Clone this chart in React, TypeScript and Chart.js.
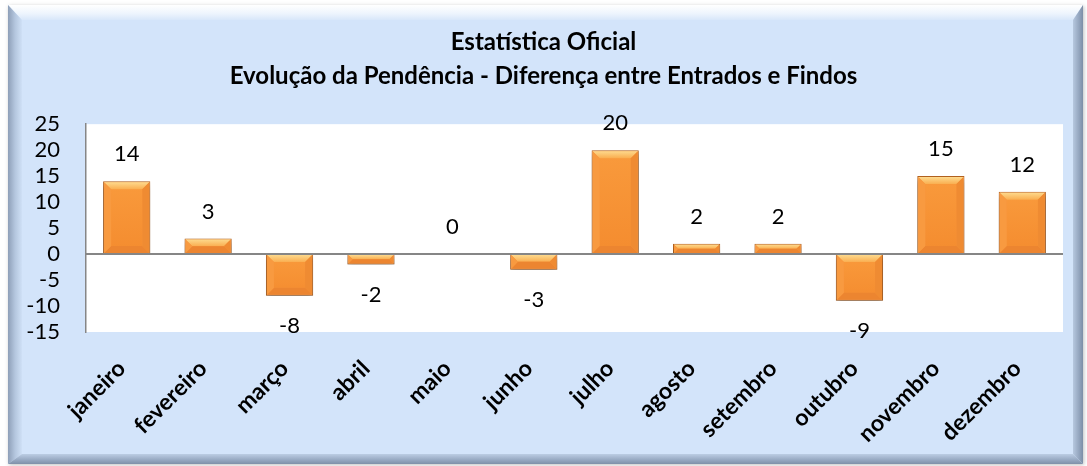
import React, { useEffect, useRef } from "react";
import { Chart, registerables } from "chart.js";

Chart.register(...registerables);

const titleLines = ["Estatística Oficial", "Evolução da Pendência - Diferença entre Entrados e Findos"];
const months = ["janeiro", "fevereiro", "março", "abril", "maio", "junho", "julho", "agosto", "setembro", "outubro", "novembro", "dezembro"];
const differences = [14, 3, -8, -2, 0, -3, 20, 2, 2, -9, 15, 12];
const yMin = -15;
const yMax = 25;
const yStep = 5;

const FONT = "Lato, 'Noto Sans', sans-serif";

const framePlugin = {
  id: "frame",
  beforeDraw(chart: any) {
    const ctx = chart.ctx;
    const W = chart.width;
    const H = chart.height;
    ctx.save();
    ctx.fillStyle = "#ffffff";
    ctx.fillRect(0, 0, W, H);
    const x0 = 8, y0 = 5, x1 = W - 4, y1 = H - 2;
    const bt = 15, bl = 14, br = 10, bb = 10;
    ctx.save();
    ctx.shadowColor = "rgba(0,0,0,0.25)";
    ctx.shadowBlur = 4;
    ctx.shadowOffsetX = 1;
    ctx.shadowOffsetY = 1;
    ctx.fillStyle = "#d3e4fa";
    ctx.fillRect(x0, y0, x1 - x0, y1 - y0);
    ctx.restore();
    ctx.fillStyle = "#d3e4fa";
    ctx.fillRect(x0, y0, x1 - x0, y1 - y0);
    let g = ctx.createLinearGradient(0, y0, 0, y0 + bt);
    g.addColorStop(0, "#ffffff");
    g.addColorStop(0.55, "#eef5fd");
    g.addColorStop(1, "#d8e7fa");
    ctx.fillStyle = g;
    ctx.beginPath();
    ctx.moveTo(x0, y0); ctx.lineTo(x1, y0); ctx.lineTo(x1 - br, y0 + bt); ctx.lineTo(x0 + bl, y0 + bt); ctx.closePath();
    ctx.fill();
    g = ctx.createLinearGradient(x0, 0, x0 + bl, 0);
    g.addColorStop(0, "#8e9fb8");
    g.addColorStop(0.5, "#b4c6de");
    g.addColorStop(1, "#cfe0f6");
    ctx.fillStyle = g;
    ctx.beginPath();
    ctx.moveTo(x0, y0); ctx.lineTo(x0 + bl, y0 + bt); ctx.lineTo(x0 + bl, y1 - bb); ctx.lineTo(x0, y1); ctx.closePath();
    ctx.fill();
    g = ctx.createLinearGradient(x1 - br, 0, x1, 0);
    g.addColorStop(0, "#b7c8df");
    g.addColorStop(0.6, "#94a6bf");
    g.addColorStop(1, "#7d8ea6");
    ctx.fillStyle = g;
    ctx.beginPath();
    ctx.moveTo(x1, y0); ctx.lineTo(x1, y1); ctx.lineTo(x1 - br, y1 - bb); ctx.lineTo(x1 - br, y0 + bt); ctx.closePath();
    ctx.fill();
    g = ctx.createLinearGradient(0, y1 - bb, 0, y1);
    g.addColorStop(0, "#bccde4");
    g.addColorStop(0.6, "#96a8c1");
    g.addColorStop(1, "#7f90a8");
    ctx.fillStyle = g;
    ctx.beginPath();
    ctx.moveTo(x0, y1); ctx.lineTo(x0 + bl, y1 - bb); ctx.lineTo(x1 - br, y1 - bb); ctx.lineTo(x1, y1); ctx.closePath();
    ctx.fill();
    const a = chart.chartArea;
    ctx.fillStyle = "#ffffff";
    ctx.fillRect(a.left, a.top, a.right - a.left, a.bottom - a.top);
    ctx.restore();
  },
};

const barStylePlugin = {
  id: "barStyle",
  beforeDatasetsDraw(chart: any) {
    const ctx = chart.ctx;
    ctx.save();
    ctx.shadowColor = "rgba(0,0,0,0.35)";
    ctx.shadowBlur = 6;
    ctx.shadowOffsetX = 0;
    ctx.shadowOffsetY = 4;
  },
  afterDatasetsDraw(chart: any) {
    const ctx = chart.ctx;
    ctx.restore();
    ctx.save();
    const meta = chart.getDatasetMeta(0);
    const data = chart.data.datasets[0].data as number[];
    meta.data.forEach((el: any) => {
      const p = el.getProps(["x", "y", "base", "width"], true);
      const left = p.x - p.width / 2 + 1;
      const right = p.x + p.width / 2 - 1;
      const top = Math.min(p.y, p.base) + 1;
      const bottom = Math.max(p.y, p.base) - 1;
      const h = bottom - top;
      if (h <= 1) return;
      const b = Math.min(7, h / 2);
      const body = ctx.createLinearGradient(0, top, 0, bottom);
      body.addColorStop(0, "#f99a3c");
      body.addColorStop(1, "#f48c2f");
      ctx.fillStyle = body;
      ctx.fillRect(left + b, top + b, right - left - 2 * b, bottom - top - 2 * b);
      const g = ctx.createLinearGradient(0, top, 0, top + b);
      g.addColorStop(0, "#fdd98c");
      g.addColorStop(1, "#faae50");
      ctx.fillStyle = g;
      ctx.beginPath();
      ctx.moveTo(left, top); ctx.lineTo(right, top); ctx.lineTo(right - b, top + b); ctx.lineTo(left + b, top + b); ctx.closePath();
      ctx.fill();
      ctx.fillStyle = "#ec8530";
      ctx.beginPath();
      ctx.moveTo(left, bottom); ctx.lineTo(right, bottom); ctx.lineTo(right - b, bottom - b); ctx.lineTo(left + b, bottom - b); ctx.closePath();
      ctx.fill();
      ctx.fillStyle = "#f89a40";
      ctx.beginPath();
      ctx.moveTo(left, top); ctx.lineTo(left + b, top + b); ctx.lineTo(left + b, bottom - b); ctx.lineTo(left, bottom); ctx.closePath();
      ctx.fill();
      ctx.fillStyle = "#ef8b32";
      ctx.beginPath();
      ctx.moveTo(right, top); ctx.lineTo(right - b, top + b); ctx.lineTo(right - b, bottom - b); ctx.lineTo(right, bottom); ctx.closePath();
      ctx.fill();
    });
    const ys = chart.scales.y;
    const y0 = ys.getPixelForValue(0);
    ctx.strokeStyle = "#868686";
    ctx.lineWidth = 2;
    ctx.beginPath();
    ctx.moveTo(chart.chartArea.left, y0);
    ctx.lineTo(chart.chartArea.right, y0);
    ctx.stroke();
    ctx.fillStyle = "#000000";
    ctx.font = `22px ${FONT}`;
    ctx.textAlign = "center";
    ctx.textBaseline = "middle";
    meta.data.forEach((el: any, i: number) => {
      const v = data[i];
      const p = el.getProps(["x", "y"], true);
      const ty = v >= 0 ? p.y - 27 : p.y + 30;
      ctx.fillText(String(v), p.x, ty);
    });
    ctx.restore();
  },
};

export default function App() {
  const ref = useRef<HTMLCanvasElement | null>(null);
  useEffect(() => {
    if (!ref.current) return;
    const chart = new Chart(ref.current, {
      type: "bar",
      data: {
        labels: months,
        datasets: [
          {
            data: differences,
            backgroundColor: "#f7933a",
            borderColor: "#b5631f",
            borderWidth: 1,
            barPercentage: 0.58,
            categoryPercentage: 1,
          },
        ],
      },
      options: {
        responsive: false,
        devicePixelRatio: 1,
        animation: false,
        layout: { padding: { top: 10, right: 24, left: 24, bottom: 0 } },
        plugins: {
          legend: { display: false },
          tooltip: { enabled: false },
          title: {
            display: true,
            text: titleLines,
            color: "#000000",
            font: { family: FONT, size: 24, weight: "bold", lineHeight: 1.42 },
            padding: { top: 15, bottom: 31 },
          },
        },
        scales: {
          x: {
            grid: { display: false, drawTicks: false },
            border: { display: false },
            ticks: {
              color: "#000000",
              font: { family: FONT, size: 23, weight: "bold" },
              maxRotation: 45,
              minRotation: 45,
              autoSkip: false,
              padding: 23,
              labelOffset: -5,
            },
            afterFit(scale: any) {
              scale.height = 134;
            },
          },
          y: {
            min: yMin,
            max: yMax,
            grid: { display: false, drawTicks: false },
            border: { display: true, color: "#868686", width: 1.5 },
            ticks: {
              stepSize: yStep,
              autoSkip: false,
              color: "#000000",
              font: { family: FONT, size: 22 },
              padding: 26,
            },
            afterFit(scale: any) {
              scale.width = 62;
            },
          },
        },
      },
      plugins: [framePlugin, barStylePlugin],
    });
    return () => chart.destroy();
  }, []);
  return (
    <div style={{ position: "absolute", left: 0, top: 0, width: 1087, height: 466 }}>
      <canvas ref={ref} width={1087} height={466} style={{ width: 1087, height: 466, display: "block" }} />
    </div>
  );
}
